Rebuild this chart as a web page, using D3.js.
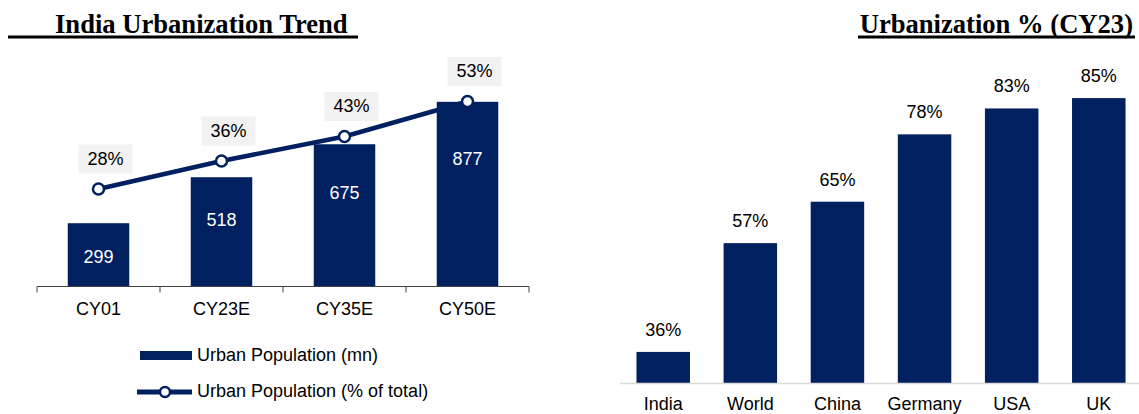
<!DOCTYPE html>
<html>
<head>
<meta charset="utf-8">
<script src="https://cdn.jsdelivr.net/npm/d3@7/dist/d3.min.js"></script>
<style>
  html, body { margin: 0; padding: 0; background: #fff; }
  svg { display: block; }
  text { font-family: "Liberation Sans", Arial, sans-serif; }
  .title { font-family: "Liberation Serif", "Times New Roman", serif; font-weight: bold; }
</style>
</head>
<body>
<svg id="chart" width="1139" height="414"></svg>
<script>
// India urbanization trend (left panel)
const trendYears = ["CY01", "CY23E", "CY35E", "CY50E"];
const urbanPopMn = [299, 518, 675, 877];
const urbanPopPct = [28, 36, 43, 53];

// Urbanization % by country, CY23 (right panel)
const countries = ["India", "World", "China", "Germany", "USA", "UK"];
const urbanizationPct = [36, 57, 65, 78, 83, 85];

const legendLabels = ["Urban Population (mn)", "Urban Population (% of total)"];

const NAVY = "#002060";
const svg = d3.select("#chart");

// ---------- Titles ----------
svg.append("text").attr("class", "title")
  .attr("x", 55).attr("y", 32.5).attr("font-size", 26.6).attr("fill", "#000")
  .text("India Urbanization Trend");
svg.append("rect").attr("x", 8).attr("y", 35.5).attr("width", 350).attr("height", 3).attr("fill", "#000");

svg.append("text").attr("class", "title")
  .attr("x", 1133).attr("y", 32.5).attr("text-anchor", "end").attr("font-size", 26.6).attr("fill", "#000")
  .text("Urbanization % (CY23)");
svg.append("rect").attr("x", 858).attr("y", 35.5).attr("width", 277).attr("height", 3).attr("fill", "#000");

// ---------- Left panel ----------
const xL = d3.scaleBand().domain(trendYears).range([37, 529]).paddingInner(0.5).paddingOuter(0.25);
const yBar = d3.scaleLinear().domain([0, 1000]).range([286, 76]);
const yPct = d3.scaleLinear().domain([0, 60]).range([287, 77]);

const left = svg.append("g");

left.selectAll("rect.bar").data(trendYears).join("rect")
  .attr("class", "bar")
  .attr("x", d => xL(d))
  .attr("width", xL.bandwidth())
  .attr("y", (d, i) => yBar(urbanPopMn[i]))
  .attr("height", (d, i) => yBar(0) - yBar(urbanPopMn[i]))
  .attr("fill", NAVY);

// value labels sit in the upper part of each bar
left.selectAll("text.barval").data(trendYears).join("text")
  .attr("class", "barval")
  .attr("x", d => xL(d) + xL.bandwidth() / 2)
  .attr("y", (d, i) => {
    const top = yBar(urbanPopMn[i]);
    const h = yBar(0) - top;
    return top + 22 + 0.2 * h;
  })
  .attr("text-anchor", "middle").attr("dominant-baseline", "middle")
  .attr("font-size", 18).attr("fill", "#fff")
  .text((d, i) => urbanPopMn[i]);

// axis with band-boundary ticks
const axisG = left.append("g").attr("transform", "translate(0,286.5)");
axisG.append("line").attr("x1", 37).attr("x2", 529).attr("stroke", "#404040").attr("stroke-width", 1);
const bounds = d3.range(trendYears.length + 1).map(i => 37 + i * xL.step());
axisG.selectAll("line.tick").data(bounds).join("line")
  .attr("class", "tick")
  .attr("x1", d => d).attr("x2", d => d).attr("y1", 0).attr("y2", 6)
  .attr("stroke", "#404040");
left.append("g").attr("transform", "translate(0,286.5)")
  .call(d3.axisBottom(xL).tickSize(0).tickPadding(16))
  .call(g => g.select(".domain").remove())
  .call(g => g.selectAll("text").attr("font-size", 18).attr("fill", "#000")
    .attr("font-family", "Liberation Sans, Arial, sans-serif"));

// percentage line
const lineGen = d3.line()
  .x((d, i) => xL(trendYears[i]) + xL.bandwidth() / 2)
  .y(d => yPct(d));
left.append("path").datum(urbanPopPct)
  .attr("d", lineGen).attr("fill", "none")
  .attr("stroke", NAVY).attr("stroke-width", 4.5);
left.selectAll("circle.pt").data(urbanPopPct).join("circle")
  .attr("class", "pt")
  .attr("cx", (d, i) => xL(trendYears[i]) + xL.bandwidth() / 2)
  .attr("cy", d => yPct(d))
  .attr("r", 5.5).attr("fill", "#fff").attr("stroke", NAVY).attr("stroke-width", 2.5);

// percentage labels on grey tags
const tags = left.selectAll("g.tag").data(urbanPopPct).join("g")
  .attr("class", "tag")
  .attr("transform", (d, i) => `translate(${xL(trendYears[i]) + xL.bandwidth() / 2 + 7},${yPct(d) - 30})`);
tags.append("rect").attr("x", -27).attr("y", -14.5).attr("width", 54).attr("height", 29).attr("fill", "#f2f2f2");
tags.append("text").attr("text-anchor", "middle").attr("dominant-baseline", "middle").attr("y", 1)
  .attr("font-size", 18).attr("fill", "#000").text(d => d + "%");

// legend
const leg = svg.append("g");
leg.append("rect").attr("x", 140).attr("y", 351).attr("width", 52).attr("height", 9).attr("fill", NAVY);
leg.append("text").attr("x", 197).attr("y", 356).attr("dominant-baseline", "middle")
  .attr("font-size", 18).attr("fill", "#000").text(legendLabels[0]);
leg.append("line").attr("x1", 137).attr("x2", 192).attr("y1", 392).attr("y2", 392)
  .attr("stroke", NAVY).attr("stroke-width", 5);
leg.append("circle").attr("cx", 165).attr("cy", 392).attr("r", 5)
  .attr("fill", "#fff").attr("stroke", NAVY).attr("stroke-width", 2.5);
leg.append("text").attr("x", 197).attr("y", 392.5).attr("dominant-baseline", "middle")
  .attr("font-size", 18).attr("fill", "#000").text(legendLabels[1]);

// ---------- Right panel ----------
const xR = d3.scaleBand().domain(countries).range([614, 1148]).paddingInner(0.386).paddingOuter(0.258);
const yR = d3.scaleLinear().domain([30, 90]).range([383, 72.2]);

const right = svg.append("g");
right.selectAll("rect.bar").data(countries).join("rect")
  .attr("class", "bar")
  .attr("x", d => xR(d))
  .attr("width", xR.bandwidth())
  .attr("y", (d, i) => yR(urbanizationPct[i]))
  .attr("height", (d, i) => yR(30) - yR(urbanizationPct[i]))
  .attr("fill", NAVY);

right.append("line").attr("x1", 620).attr("x2", 1139).attr("y1", 383.5).attr("y2", 383.5)
  .attr("stroke", "#d9d9d9").attr("stroke-width", 1.5);

right.selectAll("text.val").data(countries).join("text")
  .attr("class", "val")
  .attr("x", d => xR(d) + xR.bandwidth() / 2)
  .attr("y", (d, i) => yR(urbanizationPct[i]) - 16)
  .attr("text-anchor", "middle").attr("font-size", 18).attr("fill", "#000")
  .text((d, i) => urbanizationPct[i] + "%");

right.append("g").attr("transform", "translate(0,383.5)")
  .call(d3.axisBottom(xR).tickSize(0).tickPadding(13.5))
  .call(g => g.select(".domain").remove())
  .call(g => g.selectAll("text").attr("font-size", 18).attr("fill", "#000")
    .attr("font-family", "Liberation Sans, Arial, sans-serif"));
</script>
</body>
</html>
